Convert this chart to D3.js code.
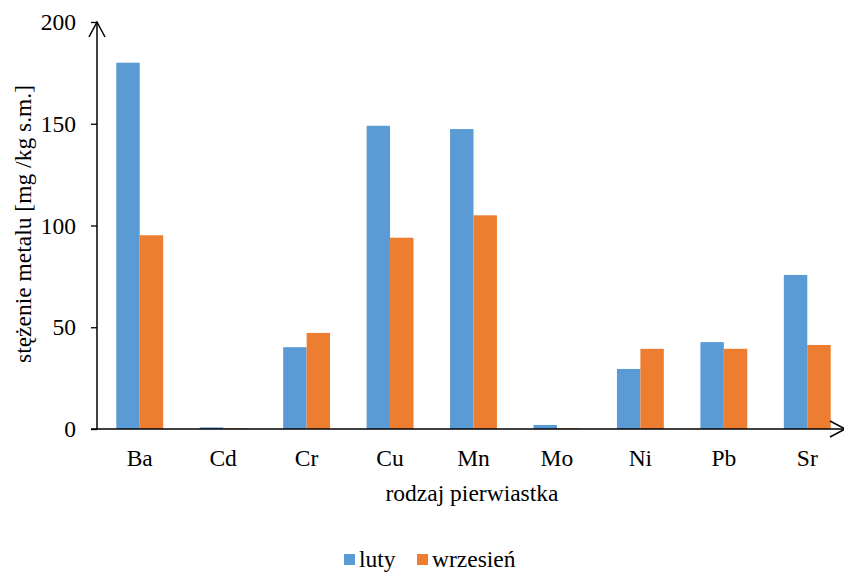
<!DOCTYPE html>
<html>
<head>
<meta charset="utf-8">
<script src="https://cdn.jsdelivr.net/npm/d3@7"></script>
<style>
  html, body { margin: 0; padding: 0; background: #fff; }
  svg { display: block; }
</style>
</head>
<body>
<svg id="chart" width="844" height="573"></svg>
<script>
// Metal concentrations per element, two sampling months
const categories = ["Ba", "Cd", "Cr", "Cu", "Mn", "Mo", "Ni", "Pb", "Sr"];
const seriesNames = ["luty", "wrzesień"];
const luty = [180, 0.8, 40.2, 149, 147.4, 2, 29.5, 42.7, 75.7];
const wrzesien = [95.2, 0.3, 47.2, 94, 105, 0.3, 39.4, 39.4, 41.3];
const yTicks = [0, 50, 100, 150, 200];
const colors = ["#5B9BD5", "#ED7D31"];

const FONT = '"Liberation Serif"';
const FS = "23.5px";
const svg = d3.select("#chart");
const plotLeft = 97, plotRight = 849, plotTop = 22, plotBottom = 429;

const x = d3.scaleBand().domain(categories).range([plotLeft + 1, plotRight]).paddingInner(0).paddingOuter(0);
const xInner = d3.scaleBand().domain(seriesNames).range([0, x.bandwidth()]).paddingOuter(0.78).paddingInner(0);
const y = d3.scaleLinear().domain([0, 200]).range([plotBottom, plotTop]);

const rows = categories.map((c, i) => ({ cat: c, values: [luty[i], wrzesien[i]] }));

// Bars
const g = svg.append("g");
rows.forEach(r => {
  r.values.forEach((v, j) => {
    g.append("rect")
      .attr("x", x(r.cat) + xInner(seriesNames[j]))
      .attr("y", y(v))
      .attr("width", xInner.bandwidth())
      .attr("height", y(0) - y(v))
      .attr("fill", colors[j]);
  });
});

// Y axis
const yAxis = d3.axisLeft(y).tickValues(yTicks).tickSize(6).tickPadding(15);
const ya = svg.append("g").attr("transform", `translate(${plotLeft},0)`).call(yAxis)
  .attr("font-family", null).attr("font-size", null);
ya.select(".domain").remove();
ya.selectAll(".tick line").attr("stroke", "#000").attr("stroke-width", 1.3);
ya.selectAll(".tick text").style("font-family", FONT).style("font-size", FS).attr("fill", "#000");

// X axis labels
const xAxis = d3.axisBottom(x).tickSize(0).tickPadding(20);
const xa = svg.append("g").attr("transform", `translate(0,${plotBottom})`).call(xAxis)
  .attr("font-family", null).attr("font-size", null);
xa.select(".domain").remove();
xa.selectAll(".tick text").style("font-family", FONT).style("font-size", FS).attr("fill", "#000");

// Axis lines with arrowheads
svg.append("line").attr("x1", plotLeft).attr("y1", plotBottom).attr("x2", plotLeft).attr("y2", plotTop)
  .attr("stroke", "#000").attr("stroke-width", 1.5);
svg.append("path").attr("d", `M${plotLeft - 8},${plotTop + 15} L${plotLeft},${plotTop} L${plotLeft + 8},${plotTop + 15}`)
  .attr("fill", "none").attr("stroke", "#000").attr("stroke-width", 1.5);
svg.append("line").attr("x1", plotLeft - 6).attr("y1", plotBottom).attr("x2", 845).attr("y2", plotBottom)
  .attr("stroke", "#000").attr("stroke-width", 1.5);
svg.append("path").attr("d", `M${830},${plotBottom - 8} L${845},${plotBottom} L${830},${plotBottom + 8}`)
  .attr("fill", "none").attr("stroke", "#000").attr("stroke-width", 1.5);

// Axis titles
svg.append("text")
  .attr("transform", `translate(31,224) rotate(-90)`)
  .attr("text-anchor", "middle").style("font-family", FONT).style("font-size", FS).attr("fill", "#000")
  .text("stężenie metalu [mg /kg s.m.]");
svg.append("text")
  .attr("x", 472).attr("y", 501).attr("text-anchor", "middle")
  .style("font-family", FONT).style("font-size", FS).attr("fill", "#000")
  .text("rodzaj pierwiastka");

// Legend
const legend = svg.append("g");
const legendX = [344, 417];
seriesNames.forEach((s, j) => {
  legend.append("rect").attr("x", legendX[j]).attr("y", 554).attr("width", 11).attr("height", 11).attr("fill", colors[j]);
  legend.append("text").attr("x", legendX[j] + 15).attr("y", 567)
    .style("font-family", FONT).style("font-size", FS).attr("fill", "#000").text(s);
});
</script>
</body>
</html>
